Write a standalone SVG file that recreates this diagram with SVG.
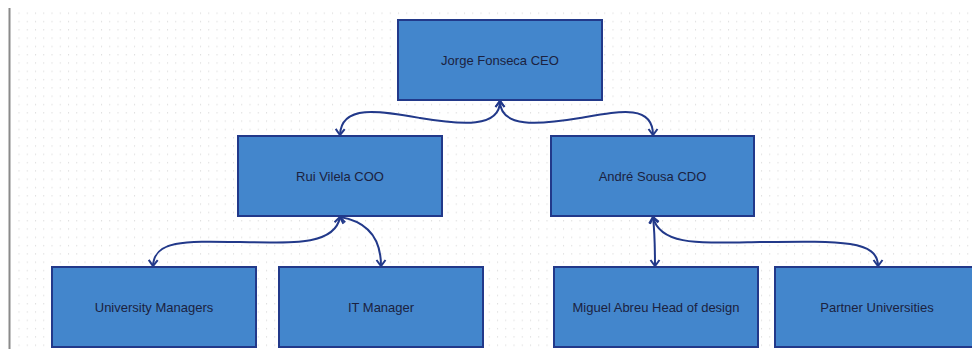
<svg xmlns="http://www.w3.org/2000/svg" width="972" height="349" viewBox="0 0 972 349">
  <style>
    .box { fill: #4386CC; stroke: #22398A; stroke-width: 2; }
    .label { font-family: "Liberation Sans", Arial, sans-serif; font-size: 13px; fill: #1B2240; text-anchor: middle; }
    .link { fill: none; stroke: #22398A; stroke-width: 2; marker-start: url(#chev); marker-end: url(#chev); }
  </style>
  <defs>
    <pattern id="dots" patternUnits="userSpaceOnUse" x="18.5" y="12.5" width="8.25" height="8.3">
      <rect x="0" y="0" width="1" height="1.4" fill="#DEDEDE"/>
    </pattern>
    <marker id="chev" markerUnits="userSpaceOnUse" viewBox="-8 -6 10 12" markerWidth="10" markerHeight="12" refX="0" refY="0" orient="auto-start-reverse">
      <path d="M-6,-4.5 L0,0 L-6,4.5" fill="none" stroke="#22398A" stroke-width="2"/>
    </marker>
  </defs>

  <!-- canvas background with dot grid and left margin rule -->
  <rect x="0" y="0" width="972" height="349" fill="#FFFFFF"/>
  <rect x="14" y="9" width="958" height="340" fill="url(#dots)"/>
  <line x1="9.5" y1="8" x2="9.5" y2="349" stroke="#8A8A8A" stroke-width="2"/>

  <!-- connectors -->
  <g id="connectors">
    <path class="link" d="M500,101 C500,128 462,125 420,118 C380,111 341,104 340,135"/>
    <path class="link" d="M500,101 C500,128 538,125 580,118 C620,111 653,104 653,135"/>
    <path class="link" d="M340,217 C335,246 290,243 240,242 C185,241 154,240 153,266"/>
    <path class="link" d="M340,217 C370,222 381,240 381,266"/>
    <path class="link" d="M653,217 C655,235 655,248 655,266"/>
    <path class="link" d="M653,217 C660,246 700,243 760,242 C840,241 878,240 878,266"/>
  </g>

  <!-- nodes -->
  <g id="ceo">
    <rect class="box" x="398" y="20" width="204" height="80"/>
    <text class="label" x="500" y="65">Jorge Fonseca CEO</text>
  </g>
  <g id="coo">
    <rect class="box" x="238" y="136" width="204" height="80"/>
    <text class="label" x="340" y="181">Rui Vilela COO</text>
  </g>
  <g id="cdo">
    <rect class="box" x="551" y="136" width="203" height="80"/>
    <text class="label" x="652.5" y="181">André Sousa CDO</text>
  </g>
  <g id="university-managers">
    <rect class="box" x="52" y="267" width="204" height="80"/>
    <text class="label" x="154" y="312">University Managers</text>
  </g>
  <g id="it-manager">
    <rect class="box" x="279" y="267" width="204" height="80"/>
    <text class="label" x="381" y="312">IT Manager</text>
  </g>
  <g id="head-of-design">
    <rect class="box" x="554" y="267" width="204" height="80"/>
    <text class="label" x="656" y="312">Miguel Abreu Head of design</text>
  </g>
  <g id="partner-universities">
    <rect class="box" x="775" y="267" width="204" height="80"/>
    <text class="label" x="877" y="312">Partner Universities</text>
  </g>
</svg>
